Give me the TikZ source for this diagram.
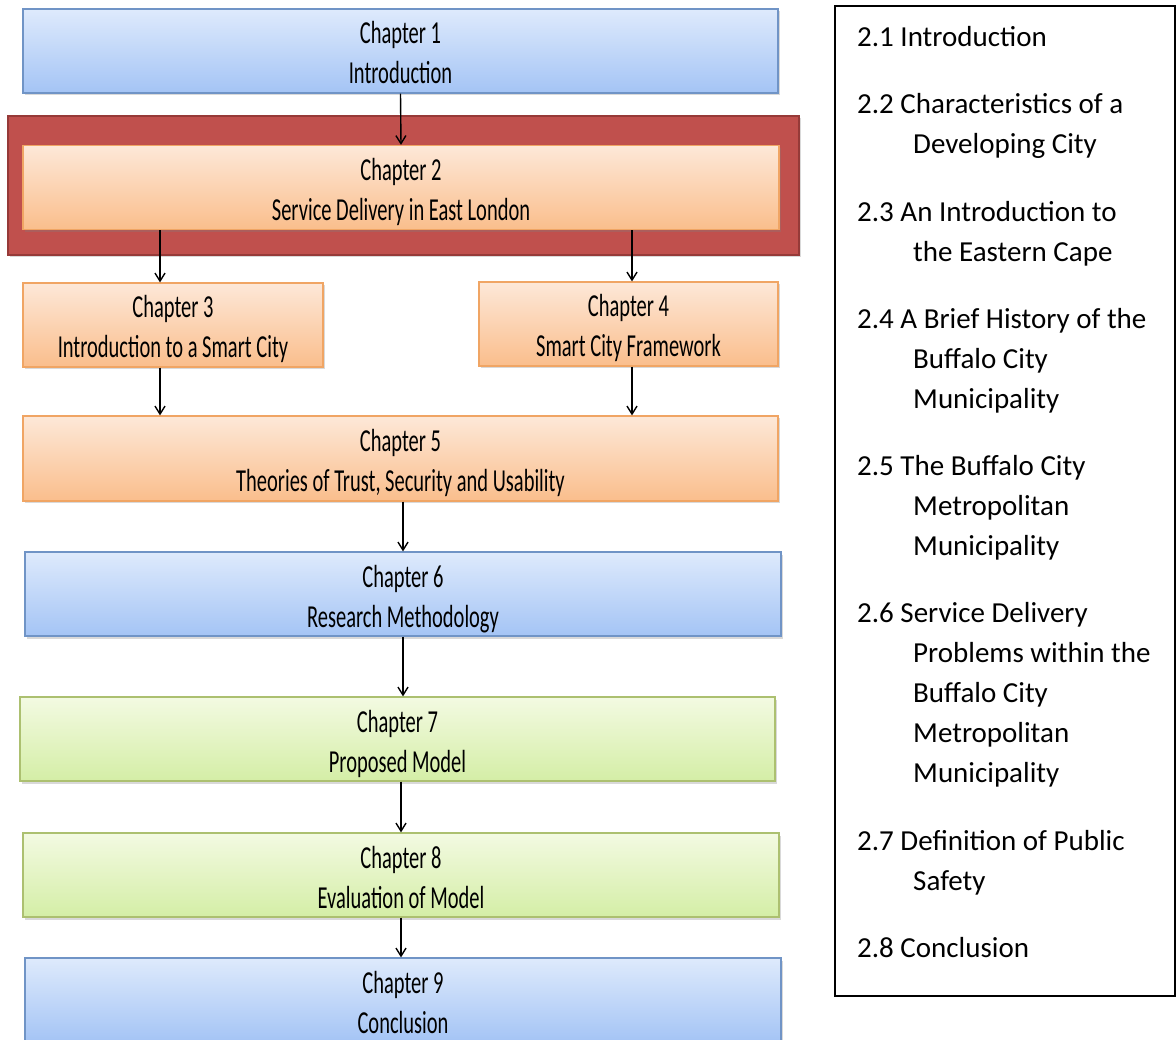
\documentclass[tikz,border=0pt]{standalone}
\usepackage{fontspec}
\setmainfont{Carlito}
\newfontfamily\boxfont[FakeStretch=0.64]{Carlito}
\newfontfamily\tocfont{Carlito}
\usetikzlibrary{arrows.meta,shadows}

\definecolor{blueTop}{RGB}{222,234,252}
\definecolor{blueBot}{RGB}{164,196,245}
\definecolor{blueLine}{RGB}{112,148,198}
\definecolor{orangeTop}{RGB}{253,232,216}
\definecolor{orangeBot}{RGB}{250,190,140}
\definecolor{orangeLine}{RGB}{240,165,100}
\definecolor{greenTop}{RGB}{243,250,226}
\definecolor{greenBot}{RGB}{212,238,166}
\definecolor{greenLine}{RGB}{172,192,112}
\definecolor{frameFill}{RGB}{192,80,77}
\definecolor{frameLine}{RGB}{150,58,56}

% two-line chapter label with fixed first-line height and last-line depth
\newcommand\chaptext[2]{\rule{0pt}{35pt}#1\\#2\rule[-9pt]{0pt}{9pt}}
% one numbered section entry, wrapped lines hang under the title
\newcommand\tocitem[1]{\hangindent=56pt\hangafter=1 #1\par}

\tikzset{
  x=1pt, y=-1pt,
  chapbox/.style={rectangle, minimum height=84, inner sep=0pt, align=center,
    font=\boxfont\fontsize{32}{40}\selectfont, line width=1.2pt,
    drop shadow={opacity=0.3, shadow xshift=1.5pt, shadow yshift=-2.5pt}},
  bluebox/.style={chapbox, draw=blueLine, top color=blueTop, bottom color=blueBot},
  orangebox/.style={chapbox, draw=orangeLine, top color=orangeTop, bottom color=orangeBot},
  greenbox/.style={chapbox, draw=greenLine, top color=greenTop, bottom color=greenBot},
  focusframe/.style={rectangle, inner sep=0pt, fill=frameFill, draw=frameLine, line width=1.2pt,
    drop shadow={opacity=0.3, shadow xshift=1.5pt, shadow yshift=-2.5pt}},
  flow/.style={line width=1.4pt, draw=black,
    -{Straight Barb[length=8pt,width=10pt,line width=1.4pt]}},
}

\begin{document}
\begin{tikzpicture}
\useasboundingbox (0,0) rectangle (1176,1040);

% chapter flow
\node[bluebox, minimum width=755] (ch1) at (400.5,51) {\chaptext{Chapter 1}{Introduction}};
\node[focusframe, minimum width=791, minimum height=139] (frame) at (403.5,185.5) {};
\node[orangebox, minimum width=756, minimum height=83] (ch2) at (401,187.5) {\chaptext{Chapter 2}{Service Delivery in East London}};
\node[orangebox, minimum width=300] (ch3) at (173,325) {\chaptext{Chapter 3}{Introduction to a Smart City}};
\node[orangebox, minimum width=299] (ch4) at (628.5,324) {\chaptext{Chapter 4}{Smart City Framework}};
\node[orangebox, minimum width=755, minimum height=85] (ch5) at (400.5,458.5) {\chaptext{Chapter 5}{Theories of Trust, Security and Usability}};
\node[bluebox, minimum width=756] (ch6) at (403,594) {\chaptext{Chapter 6}{Research Methodology}};
\node[greenbox, minimum width=755] (ch7) at (397.5,739) {\chaptext{Chapter 7}{Proposed Model}};
\node[greenbox, minimum width=756] (ch8) at (401,875) {\chaptext{Chapter 8}{Evaluation of Model}};
\node[bluebox, minimum width=756] (ch9) at (403,1000) {\chaptext{Chapter 9}{Conclusion}};

% branch columns
\coordinate (lcol) at (160,0);
\coordinate (rcol) at (632,0);

\draw[flow] (ch1.south) -- (ch2.north);
\draw[flow] (ch2.south -| lcol) -- (ch3.north -| lcol);
\draw[flow] (ch2.south -| rcol) -- (ch4.north -| rcol);
\draw[flow] (ch3.south -| lcol) -- (ch5.north -| lcol);
\draw[flow] (ch4.south -| rcol) -- (ch5.north -| rcol);
\draw[flow] (ch5.south -| ch6.north) -- (ch6.north);
\draw[flow] (ch6.south) -- (ch7.north -| ch6.south);
\draw[flow] (ch7.south -| ch8.north) -- (ch8.north);
\draw[flow] (ch8.south) -- (ch9.north -| ch8.south);

% section list of chapter 2
\node[draw=black, line width=1.8pt, rectangle, inner sep=0pt,
      minimum width=340, minimum height=990] (panel) at (1005,501) {};
\node[anchor=base west, inner sep=0pt] (toc) at (857,46.5) {\parbox[t]{315pt}{%
  \tocfont\fontsize{29}{40}\selectfont\raggedright\parskip=27.3pt\parindent=0pt
  \tocitem{2.1 Introduction}
  \tocitem{2.2 Characteristics of a\newline Developing City}
  \tocitem{2.3 An Introduction to\newline the Eastern Cape}
  \tocitem{2.4 A Brief History of the\newline Buffalo City\newline Municipality}
  \tocitem{2.5 The Buffalo City\newline Metropolitan\newline Municipality}
  \tocitem{2.6 Service Delivery\newline Problems within the\newline Buffalo City\newline Metropolitan\newline Municipality}
  \tocitem{2.7 Definition of Public\newline Safety}
  \tocitem{2.8 Conclusion}}};
\end{tikzpicture}
\end{document}
